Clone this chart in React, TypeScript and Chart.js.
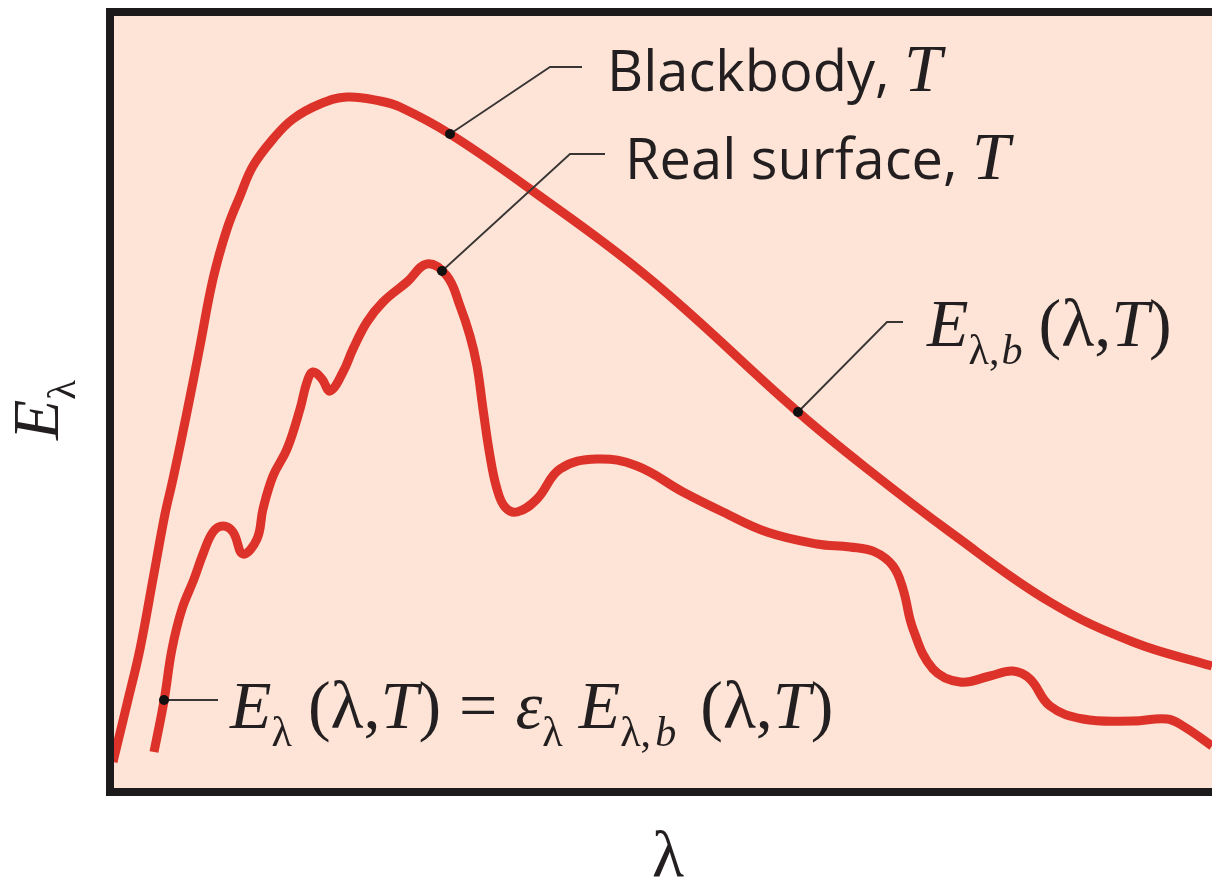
import React, { useEffect, useRef } from "react";
import { Chart, registerables } from "chart.js";

Chart.register(...registerables);

// Wavelength (arbitrary units) and emissive power (arbitrary units)
const blackbodyLambda = [3, 17, 30, 43, 55, 63, 77, 90, 103, 117, 130, 143, 163, 183, 210, 237, 270, 290, 340, 420, 540, 688, 760, 840, 940, 1023, 1102];
const blackbodyE = [30, 88, 143, 213, 278, 313, 380, 446, 513, 563, 596, 626, 653, 673, 688, 695, 691, 685, 658, 603, 513, 380, 321, 260, 190, 150, 126];

const realLambda = [44, 54, 62, 72, 84, 93, 103, 113, 123, 133, 147, 153, 163, 177, 190, 197, 203, 212, 220, 233, 243, 257, 273, 297, 317, 337, 350, 360, 367, 373, 380, 387, 395, 407, 427, 450, 487, 527, 573, 613, 657, 707, 740, 765, 783, 793, 803, 823, 850, 880, 903, 920, 940, 973, 1023, 1057, 1073, 1102];
const realE = [40, 91, 143, 183, 213, 238, 260, 266, 260, 238, 253, 283, 316, 343, 383, 410, 420, 413, 401, 420, 443, 470, 490, 510, 528, 516, 486, 456, 426, 383, 336, 303, 285, 280, 293, 323, 333, 326, 300, 280, 260, 248, 245, 240, 226, 203, 163, 123, 110, 116, 121, 113, 86, 73, 71, 73, 66, 46];

const lambdaMax = 1102;
const eMax = 780;

// Callout anchors (data units): dot on curve, elbow, end of leader
const calloutDotLambda = [340, 332, 688, 54];
const calloutDotE = [658, 521, 380, 92];
const calloutElbowLambda = [440, 460, 777, 54];
const calloutElbowE = [725, 638, 470, 92];
const calloutEndLambda = [472, 495, 793, 108];
const calloutEndE = [725, 638, 470, 92];

type Run = { t: string; it?: boolean; sub?: boolean; sans?: boolean; gap?: number };

const calloutTexts: Run[][] = [
  [{ t: "Blackbody, ", sans: true }, { t: "T", it: true }],
  [{ t: "Real surface, ", sans: true }, { t: "T", it: true }],
  [
    { t: "E", it: true },
    { t: "λ,", sub: true, gap: 2 },
    { t: "b", sub: true, it: true, gap: 16 },
    { t: "(λ," },
    { t: "T", it: true },
    { t: ")" },
  ],
  [
    { t: "E", it: true },
    { t: "λ", sub: true, gap: 16 },
    { t: "(λ," },
    { t: "T", it: true },
    { t: ")", gap: 18 },
    { t: "=", gap: 18 },
    { t: "ε", it: true },
    { t: "λ", sub: true, gap: 16 },
    { t: "E", it: true },
    { t: "λ,", sub: true, gap: 4 },
    { t: "b", sub: true, it: true, gap: 24 },
    { t: "(λ," },
    { t: "T", it: true },
    { t: ")" },
  ],
];
const calloutTextDx = [25, 20, 24, 12];
const calloutTextDy = [24, 25, 24, 28];

const yTitle: Run[] = [{ t: "E", it: true }, { t: "λ", sub: true }];
const xTitle: Run[] = [{ t: "λ" }];

const RED = "#dd3229";
const INK = "#231f20";
const BG = "#fde4d6";
const BASE = 68;

function drawRuns(ctx: CanvasRenderingContext2D, x: number, y: number, runs: Run[], base: number, sansSize = 56) {
  let cx = x;
  for (const r of runs) {
    const size = r.sans ? sansSize : r.sub ? base * 0.62 : base;
    const fam = r.sans ? '"Open Sans", "Liberation Sans", sans-serif' : '"Liberation Serif", "DejaVu Serif", serif';
    ctx.font = `${r.it ? "italic " : ""}${size}px ${fam}`;
    ctx.fillText(r.t, cx, y + (r.sub ? base * 0.26 : 0));
    cx += ctx.measureText(r.t).width + (r.gap || 0);
  }
  return cx;
}

const decorPlugin = {
  id: "decor",
  beforeDatasetsDraw(chart: any) {
    const { ctx, chartArea } = chart;
    ctx.save();
    ctx.fillStyle = BG;
    ctx.fillRect(chartArea.left, chartArea.top, chartArea.right - chartArea.left, chartArea.bottom - chartArea.top);
    ctx.restore();
  },
  afterDatasetsDraw(chart: any) {
    const { ctx, chartArea } = chart;
    const xs = chart.scales.x;
    const ys = chart.scales.y;
    ctx.save();
    // frame (left, top, bottom)
    ctx.strokeStyle = "#1c1a1a";
    ctx.lineWidth = 8;
    ctx.lineCap = "square";
    ctx.beginPath();
    ctx.moveTo(chartArea.right + 10, chartArea.top);
    ctx.lineTo(chartArea.left, chartArea.top);
    ctx.lineTo(chartArea.left, chartArea.bottom);
    ctx.lineTo(chartArea.right + 10, chartArea.bottom);
    ctx.stroke();

    // callouts
    for (let i = 0; i < calloutTexts.length; i++) {
      const dx = xs.getPixelForValue(calloutDotLambda[i]);
      const dy = ys.getPixelForValue(calloutDotE[i]);
      const ex = xs.getPixelForValue(calloutElbowLambda[i]);
      const ey = ys.getPixelForValue(calloutElbowE[i]);
      const nx = xs.getPixelForValue(calloutEndLambda[i]);
      const ny = ys.getPixelForValue(calloutEndE[i]);
      ctx.strokeStyle = "#3a3535";
      ctx.lineWidth = 1.8;
      ctx.lineCap = "butt";
      ctx.beginPath();
      ctx.moveTo(dx, dy);
      ctx.lineTo(ex, ey);
      ctx.lineTo(nx, ny);
      ctx.stroke();
      ctx.fillStyle = "#111";
      ctx.beginPath();
      ctx.arc(dx, dy, 5, 0, Math.PI * 2);
      ctx.fill();
      ctx.fillStyle = INK;
      ctx.textBaseline = "alphabetic";
      ctx.textAlign = "left";
      drawRuns(ctx, nx + calloutTextDx[i], ny + calloutTextDy[i], calloutTexts[i], BASE);
    }

    // axis titles
    ctx.fillStyle = INK;
    ctx.save();
    ctx.translate(58, 440);
    ctx.rotate(-Math.PI / 2);
    drawRuns(ctx, 0, 0, yTitle, 66);
    ctx.restore();
    const cx = (chartArea.left + chartArea.right) / 2 + 7;
    ctx.font = `66px "Liberation Serif", serif`;
    const w = ctx.measureText(xTitle[0].t).width;
    drawRuns(ctx, cx - w / 2, 876, xTitle, 66);
    ctx.restore();
  },
};

export default function App() {
  const ref = useRef<HTMLCanvasElement | null>(null);
  useEffect(() => {
    if (!ref.current) return;
    const chart = new Chart(ref.current, {
      type: "line",
      data: {
        datasets: [
          {
            label: "Blackbody",
            data: blackbodyLambda.map((x, i) => ({ x, y: blackbodyE[i] })),
            borderColor: RED,
            borderWidth: 9,
            pointRadius: 0,
            tension: 0.4,
            borderCapStyle: "butt",
            borderJoinStyle: "round",
          },
          {
            label: "Real surface",
            data: realLambda.map((x, i) => ({ x, y: realE[i] })),
            borderColor: RED,
            borderWidth: 9,
            pointRadius: 0,
            tension: 0.4,
            borderCapStyle: "butt",
            borderJoinStyle: "round",
          },
        ],
      },
      options: {
        responsive: false,
        animation: false,
        devicePixelRatio: 1,
        layout: { padding: { left: 110, top: 12, right: 0, bottom: 88 } },
        plugins: { legend: { display: false }, tooltip: { enabled: false } },
        scales: {
          x: { type: "linear", min: 0, max: lambdaMax, display: false },
          y: { type: "linear", min: 0, max: eMax, display: false },
        },
      },
      plugins: [decorPlugin],
    } as any);
    return () => chart.destroy();
  }, []);
  return (
    <div style={{ position: "fixed", left: 0, top: 0, width: 1212, height: 880, background: "#fff" }}>
      <canvas ref={ref} width={1212} height={880} />
    </div>
  );
}
